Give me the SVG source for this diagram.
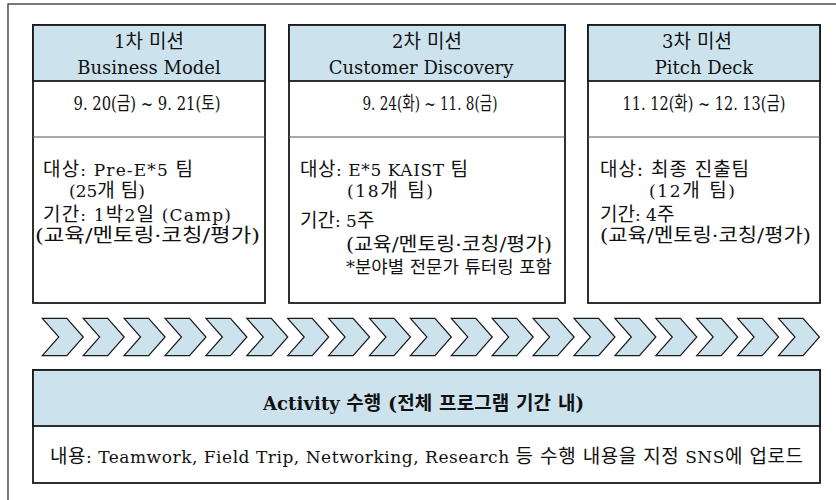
<svg xmlns="http://www.w3.org/2000/svg" width="836" height="500" viewBox="0 0 836 500">
<style>
  .frame{fill:#ffffff;stroke:#333333;stroke-width:1.3}
  .box{fill:#ffffff;stroke:#1a1a1a;stroke-width:1.8}
  .hdr{fill:#cce3ee;stroke:#1a1a1a;stroke-width:1.8}
  .sep{stroke:#555555;stroke-width:1.2}
  .chev{fill:#cce3ee;stroke:#1a1a1a;stroke-width:1.2;stroke-linejoin:miter}
  text{font-family:"DejaVu Serif","Noto Sans CJK KR",serif;fill:#111111}
  .h{font-size:18px;text-anchor:middle}
  .hk{font-size:19px}
  .d{font-size:19px;text-anchor:middle}
  .b{font-size:17px}
  .k{font-size:19px}
  .bk{font-size:19px}
  .s{font-size:17px}
  .bh{font-size:18px;font-weight:bold;text-anchor:middle}
</style>
<defs>
  <polygon id="chev" class="chev" points="0,0 24.5,0 41,18.7 24.5,37.4 0,37.4 16.5,18.7"/>
</defs>
<rect class="frame" x="8" y="4" width="840" height="510"/>

<g id="mission1">
  <rect class="box" x="33" y="25" width="232" height="278"/>
  <rect class="hdr" x="33" y="25" width="232" height="56"/>
  <line class="sep" x1="33" y1="137" x2="265" y2="137"/>
  <text class="h" x="149" y="48">1<tspan class="hk">차 미션</tspan></text>
  <text class="h" x="149" y="74">Business Model</text>
  <text class="d" x="147" y="110" textLength="147" lengthAdjust="spacingAndGlyphs">9. 20(금) ~ 9. 21(토)</text>
  <text class="b" x="43" y="176" textLength="150"><tspan class="k">대상</tspan>: Pre-E*5 <tspan class="k">팀</tspan></text>
  <text class="b" x="69" y="197">(25<tspan class="k">개 팀</tspan>)</text>
  <text class="b" x="43" y="221" textLength="188"><tspan class="k">기간</tspan>: 1<tspan class="k">박</tspan>2<tspan class="k">일</tspan> (Camp)</text>
  <text class="bk" x="35" y="242" textLength="225" lengthAdjust="spacingAndGlyphs">(교육/멘토링·코칭/평가)</text>
</g>

<g id="mission2">
  <rect class="box" x="289" y="25" width="276" height="278"/>
  <rect class="hdr" x="289" y="25" width="276" height="56"/>
  <line class="sep" x1="289" y1="137" x2="565" y2="137"/>
  <text class="h" x="427" y="48">2<tspan class="hk">차 미션</tspan></text>
  <text class="h" x="421" y="74">Customer Discovery</text>
  <text class="d" x="430" y="110" textLength="135" lengthAdjust="spacingAndGlyphs">9. 24(화) ~ 11. 8(금)</text>
  <text class="b" x="300" y="176" textLength="168"><tspan class="k">대상</tspan>: E*5 KAIST <tspan class="k">팀</tspan></text>
  <text class="b" x="347" y="197" textLength="86">(18<tspan class="k">개 팀</tspan>)</text>
  <text class="b" x="300" y="227"><tspan class="k">기간</tspan>: 5<tspan class="k">주</tspan></text>
  <text class="bk" x="346" y="251" textLength="206" lengthAdjust="spacingAndGlyphs">(교육/멘토링·코칭/평가)</text>
  <text class="s" x="346" y="273" textLength="206" lengthAdjust="spacingAndGlyphs">*분야별 전문가 튜터링 포함</text>
</g>

<g id="mission3">
  <rect class="box" x="588" y="25" width="232" height="278"/>
  <rect class="hdr" x="588" y="25" width="232" height="56"/>
  <line class="sep" x1="588" y1="137" x2="820" y2="137"/>
  <text class="h" x="697" y="48">3<tspan class="hk">차 미션</tspan></text>
  <text class="h" x="704" y="74">Pitch Deck</text>
  <text class="d" x="704" y="110" textLength="163" lengthAdjust="spacingAndGlyphs">11. 12(화) ~ 12. 13(금)</text>
  <text class="bk" x="600" y="176" textLength="149">대상: 최종 진출팀</text>
  <text class="b" x="649" y="197" textLength="86">(12<tspan class="k">개 팀</tspan>)</text>
  <text class="b" x="600" y="221"><tspan class="k">기간</tspan>: 4<tspan class="k">주</tspan></text>
  <text class="bk" x="600" y="242" textLength="211" lengthAdjust="spacingAndGlyphs">(교육/멘토링·코칭/평가)</text>
</g>

<g id="chevrons">
  <use href="#chev" x="42.3" y="318.3"/>
  <use href="#chev" x="83.2" y="318.3"/>
  <use href="#chev" x="124.1" y="318.3"/>
  <use href="#chev" x="165.0" y="318.3"/>
  <use href="#chev" x="205.9" y="318.3"/>
  <use href="#chev" x="246.8" y="318.3"/>
  <use href="#chev" x="287.7" y="318.3"/>
  <use href="#chev" x="328.6" y="318.3"/>
  <use href="#chev" x="369.5" y="318.3"/>
  <use href="#chev" x="410.4" y="318.3"/>
  <use href="#chev" x="451.3" y="318.3"/>
  <use href="#chev" x="492.2" y="318.3"/>
  <use href="#chev" x="533.1" y="318.3"/>
  <use href="#chev" x="574.0" y="318.3"/>
  <use href="#chev" x="614.9" y="318.3"/>
  <use href="#chev" x="655.8" y="318.3"/>
  <use href="#chev" x="696.7" y="318.3"/>
  <use href="#chev" x="737.6" y="318.3"/>
  <use href="#chev" x="778.5" y="318.3"/>
</g>

<g id="activity">
  <rect class="box" x="33" y="370" width="787" height="113"/>
  <rect class="hdr" x="33" y="370" width="787" height="56"/>
  <text class="bh" x="423.5" y="410" textLength="321">Activity <tspan class="k">수행 (전체 프로그램 기간 내</tspan>)</text>
  <text class="b" x="50" y="463" textLength="753"><tspan class="k">내용</tspan>: Teamwork, Field Trip, Networking, Research <tspan class="k">등 수행 내용을 지정</tspan> SNS<tspan class="k">에 업로드</tspan></text>
</g>
</svg>
